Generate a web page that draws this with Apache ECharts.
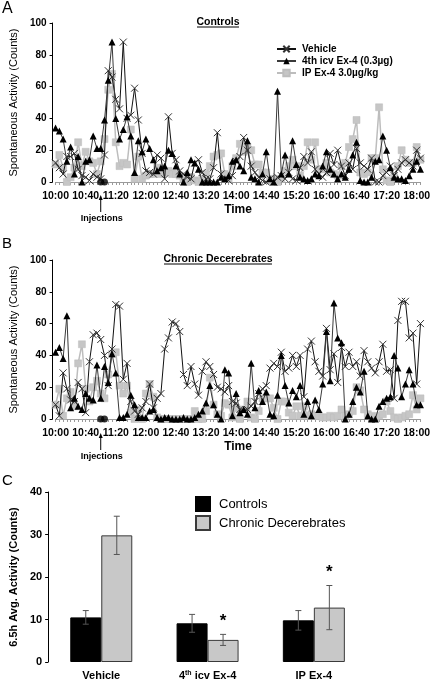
<!DOCTYPE html>
<html><head><meta charset="utf-8">
<script src="https://cdn.jsdelivr.net/npm/echarts@6/dist/echarts.min.js"></script>
<style>html,body{margin:0;padding:0;background:#fff}#c{width:433px;height:684px}</style>
</head><body><div id="c"></div>
<script>
// ---------- time categories (5-min bins, 10:00 - 18:05) ----------
const times = [];
for (let m = 0; m <= 485; m += 5) {
  const h = 10 + Math.floor(m / 60), mm = m % 60;
  times.push(h + ':' + (mm < 10 ? '0' : '') + mm);
}
const injectionTimes = ['11:00', '11:05'];
const injectionValues = [0, 0];

// ---------- Panel A: Controls ----------
const vehicleA = [12,9,5,16,16,18,8,4,3,1, 5,3,2,17,70,66,52,46,88,40, 42,59,39,18,7,6,5,17,15,2,
  41,18,14,7,5,3,2,12,14,6, 2,2,9,31,5,2,1,4,13,16, 28,20,10,6,3,1,0,2,0,3,
  4,2,6,2,1,9,16,12,19,8, 5,3,6,18,11,20,10,4,12,8, 21,12,10,8,15,0,0,4,6,10, 4,8,12,14,12,10,20,15];
const icvA = [34,32,27,13,22,5,16,0,13,14, 29,21,21,39,64,88,40,27,33,41, 29,6,26,19,27,21,14,7,9,10,
  20,18,10,5,0,6,14,12,8,0, 0,0,0,0,3,2,4,13,14,10, 7,26,3,2,0,5,19,2,0,57,
  5,17,5,26,11,3,2,1,2,5, 4,10,19,8,5,2,5,3,8,17, 25,1,0,0,3,13,14,29,20,9, 3,2,2,1,4,8,13,8];
const ipA = [11,17,9,0,3,9,25,10,19,13, 12,5,13,27,58,68,25,10,12,11, 33,2,16,2,4,5,5,9,5,6,
  7,5,5,4,2,0,3,1,0,2, 5,10,16,17,18,5,2,10,15,24, 19,22,20,11,11,6,6,1,2,0,
  2,7,10,14,10,4,10,25,14,25, 8,8,12,6,5,4,10,12,22,27, 39,6,5,6,15,15,47,8,1,0, 3,10,20,14,12,12,22,14];

// ---------- Panel B: Chronic Decerebrates ----------
const vehicleB = [9,2,29,19,12,11,23,19,4,36, 53,54,50,40,21,44,72,71,25,35, 11,5,3,7,11,22,7,13,16,44,
  51,61,60,55,28,21,33,22,15,30, 36,33,28,20,19,17,21,11,10,6, 5,6,8,11,16,19,21,32,35,33,
  42,30,32,40,33,40,14,44,49,36, 30,27,57,31,41,23,45,33,42,33, 36,27,43,36,32,29,36,47,30,31, 13,62,74,74,51,54,22,60];
const icvB = [42,45,38,65,7,13,8,6,16,13, 12,34,13,33,23,41,29,1,1,3, 15,9,1,1,1,5,6,1,0,1,
  1,0,0,0,1,0,0,1,3,5, 10,21,9,3,0,31,29,2,16,4, 6,3,35,7,18,11,17,3,2,15,
  40,21,10,18,14,21,3,11,2,12, 6,22,55,24,73,51,48,0,3,11, 20,17,30,2,0,0,8,11,13,14, 40,32,14,22,31,22,9,9];
const ipB = [9,19,2,13,17,8,35,47,19,11, 20,24,16,13,28,41,42,21,16,21, 4,0,6,0,16,22,14,1,0,0,
  0,0,0,0,0,0,0,5,0,0, 5,26,9,3,2,10,9,1,7,0, 6,11,1,0,5,13,13,13,7,0,
  11,11,4,2,8,2,8,2,3,2, 2,1,1,2,1,2,6,2,3,5, 20,18,6,3,2,1,2,3,11,5, 1,0,1,2,3,15,6,13];

// ---------- Panel C: 6.5h averages ----------
const treatments = ['Vehicle', '4th icv Ex-4', 'IP Ex-4'];
const controlsMean = [10.5, 9.1, 9.8];
const controlsErr = [1.6, 2.1, 2.3];
const decerebMean = [29.8, 5.2, 12.8];
const decerebErr = [4.5, 1.3, 5.2];
const decerebSig = ['', '*', '*'];

const seriesNames = ['Vehicle', '4th icv Ex-4 (0.3\u00b5g)', 'IP Ex-4 3.0\u00b5g/kg'];
const groupNames = ['Controls', 'Chronic Decerebrates'];

// ---------- styling ----------
const F = "'Liberation Sans', Arial, Helvetica, sans-serif";
const FN = "'Liberation Sans Narrow', 'Liberation Sans', Arial, sans-serif";
const xMark = 'path://M0,0L10,10M10,0L0,10';

function timeAxis(gi) {
  return {
    type: 'category', gridIndex: gi, data: times, boundaryGap: false,
    axisLine: { lineStyle: { color: '#9a9a9a', width: 1 } },
    axisTick: { interval: 0, length: 3, lineStyle: { color: '#9a9a9a' } },
    axisLabel: { interval: 7, color: '#000', fontFamily: F, fontWeight: 'bold', fontSize: 10.5, margin: 9 },
    splitLine: { show: false },
    name: 'Time', nameLocation: 'middle', nameGap: 22,
    nameTextStyle: { fontFamily: F, fontWeight: 'bold', fontSize: 12, color: '#000' }
  };
}
function countAxis(gi) {
  return {
    type: 'value', gridIndex: gi, min: 0, max: 100, interval: 20, offset: 3,
    axisLine: { show: true, lineStyle: { color: '#000' } },
    axisTick: { show: true, length: 3, lineStyle: { color: '#000' } },
    axisLabel: { color: '#000', fontFamily: F, fontWeight: 'bold', fontSize: 10, margin: 6 },
    splitLine: { show: false },
    name: 'Spontaneous Activity (Counts)', nameLocation: 'middle', nameGap: 26,
    nameTextStyle: { fontFamily: F, fontSize: 11, color: '#000' }
  };
}
function lines(gi, veh, icv, ip) {
  return [
    { name: seriesNames[2], type: 'line', xAxisIndex: gi, yAxisIndex: gi, data: ip,
      symbol: 'rect', symbolSize: 7, showAllSymbol: true,
      itemStyle: { color: '#c6c6c6', borderColor: '#bdbdbd', borderWidth: 0.5 },
      lineStyle: { color: '#bdbdbd', width: 1.5 }, z: 2 },
    { name: seriesNames[0], type: 'line', xAxisIndex: gi, yAxisIndex: gi, data: veh,
      symbol: xMark, symbolSize: 7, showAllSymbol: true,
      itemStyle: { color: '#333', borderColor: '#333', borderWidth: 1 },
      lineStyle: { color: '#111', width: 1 }, z: 3 },
    { name: seriesNames[1], type: 'line', xAxisIndex: gi, yAxisIndex: gi, data: icv,
      symbol: 'triangle', symbolSize: 7, showAllSymbol: true,
      itemStyle: { color: '#000' },
      lineStyle: { color: '#3a3a3a', width: 1 }, z: 4 },
    { type: 'scatter', xAxisIndex: gi, yAxisIndex: gi,
      data: injectionTimes.map((t, i) => [times.indexOf(t), injectionValues[i]]),
      symbol: 'circle', symbolSize: 7, itemStyle: { color: '#000' }, z: 6, silent: true }
  ];
}
function errSeries(means, errs, offset) {
  return {
    type: 'custom', xAxisIndex: 2, yAxisIndex: 2, z: 5, silent: true,
    data: means.map((m, i) => [i, m, errs[i]]),
    renderItem(params, api) {
      const i = api.value(0), m = api.value(1), e = api.value(2);
      const top = api.coord([i, m + e]), bot = api.coord([i, m - e]);
      const x = top[0] + offset, cw = 3;
      const st = { stroke: '#555', lineWidth: 1 };
      return { type: 'group', children: [
        { type: 'line', shape: { x1: x, y1: top[1], x2: x, y2: bot[1] }, style: st },
        { type: 'line', shape: { x1: x - cw, y1: top[1], x2: x + cw, y2: top[1] }, style: st },
        { type: 'line', shape: { x1: x - cw, y1: bot[1], x2: x + cw, y2: bot[1] }, style: st }
      ]};
    }
  };
}

const chart = echarts.init(document.getElementById('c'), null, { renderer: 'canvas' });
const option = {
  animation: false,
  backgroundColor: '#fff',
  textStyle: { fontFamily: F },
  grid: [
    { left: 43, right: 8, top: 23, height: 159 },
    { left: 43, right: 8, top: 260, height: 159 },
    { left: 40, right: 66, top: 492, height: 170 }
  ],
  legend: [
    { data: [seriesNames[0], seriesNames[1], seriesNames[2]], orient: 'vertical', left: 271, top: 39,
      itemWidth: 19, itemHeight: 8, itemGap: 2,
      textStyle: { fontFamily: F, fontWeight: 'bold', fontSize: 10, color: '#000', padding: [0, 0, 0, 1] } },
    { data: groupNames, orient: 'vertical', left: 190, top: 491, icon: 'rect',
      itemWidth: 14, itemHeight: 14, itemGap: 3,
      textStyle: { fontFamily: F, fontSize: 13, color: '#000', padding: [0, 0, 0, 4] } }
  ],
  xAxis: [
    timeAxis(0), timeAxis(1),
    { type: 'category', gridIndex: 2, data: treatments,
      axisLine: { show: false }, axisTick: { show: false },
      axisLabel: { interval: 0, margin: 8, color: '#000', hideOverlap: false,
        formatter: v => v.indexOf('4th') === 0 ? '{n|4}{s|th}{n| icv Ex-4}' : '{n|' + v + '}',
        rich: {
          n: { fontFamily: F, fontWeight: 'bold', fontSize: 11, color: '#000' },
          s: { fontFamily: F, fontWeight: 'bold', fontSize: 7, color: '#000', padding: [0, 0, 5, 0] }
        } } }
  ],
  yAxis: [
    countAxis(0), countAxis(1),
    { type: 'value', gridIndex: 2, min: 0, max: 40, interval: 10,
      axisLine: { show: true, lineStyle: { color: '#000' } },
      axisTick: { show: true, length: 3, lineStyle: { color: '#000' } },
      axisLabel: { color: '#000', fontFamily: FN, fontWeight: 'bold', fontSize: 11, margin: 6 },
      splitLine: { show: false },
      name: '6.5h Avg. Activity (Counts)', nameLocation: 'middle', nameGap: 22,
      nameTextStyle: { fontFamily: F, fontWeight: 'bold', fontSize: 11, color: '#000' } }
  ],
  series: [
    ...lines(0, vehicleA, icvA, ipA),
    ...lines(1, vehicleB, icvB, ipB),
    { name: groupNames[0], type: 'bar', xAxisIndex: 2, yAxisIndex: 2, data: controlsMean,
      barWidth: 31, barGap: '0%', itemStyle: { color: '#000', borderColor: '#000', borderWidth: 1 } },
    { name: groupNames[1], type: 'bar', xAxisIndex: 2, yAxisIndex: 2, data: decerebMean,
      barWidth: 31, barGap: '0%', itemStyle: { color: '#c8c8c8', borderColor: '#3a3a3a', borderWidth: 1 } },
    errSeries(controlsMean, controlsErr, -15.5),
    errSeries(decerebMean, decerebErr, 15.5),
    { type: 'custom', xAxisIndex: 2, yAxisIndex: 2, z: 6, silent: true,
      data: decerebMean.map((m, i) => [i, m + decerebErr[i]]),
      renderItem(params, api) {
        const i = api.value(0), top = api.value(1), s = decerebSig[i];
        if (!s) return null;
        const p = api.coord([i, top]);
        return { type: 'text', style: { text: s, x: p[0] + 15.5, y: p[1] - 13,
          textAlign: 'center', textVerticalAlign: 'middle',
          font: 'bold 17px ' + F, fill: '#000' } };
      } }
  ]
};
chart.setOption(option);

// annotations positioned from the axes
const injX = chart.convertToPixel({ xAxisIndex: 0 }, times.indexOf(injectionTimes[0]));
const injXB = chart.convertToPixel({ xAxisIndex: 1 }, times.indexOf(injectionTimes[0]));
function arrow(x, yTop, yBot) {
  return [
    { type: 'line', shape: { x1: x, y1: yTop + 3, x2: x, y2: yBot }, style: { stroke: '#000', lineWidth: 1 } },
    { type: 'polygon', shape: { points: [[x, yTop], [x - 2, yTop + 5], [x + 2, yTop + 5]] }, style: { fill: '#000' } },
    { type: 'text', style: { text: 'Injections', x: x + 1, y: yBot + 7, textAlign: 'center', textVerticalAlign: 'middle',
      font: 'bold 9px ' + F, fill: '#000' } }
  ];
}
chart.setOption({
  graphic: [
    { type: 'text', style: { text: 'A', x: 2, y: 1, font: '16px ' + F, fill: '#000' } },
    { type: 'text', style: { text: 'B', x: 2, y: 236, font: '15px ' + F, fill: '#000' } },
    { type: 'text', style: { text: 'C', x: 2, y: 473, font: '15px ' + F, fill: '#000' } },
    { type: 'text', style: { text: 'Controls', x: 218, y: 22, textAlign: 'center', textVerticalAlign: 'middle',
      font: 'bold 10.5px ' + F, fill: '#000' } },
    { type: 'line', shape: { x1: 197, y1: 27, x2: 239, y2: 27 }, style: { stroke: '#000', lineWidth: 1 } },
    { type: 'text', style: { text: 'Chronic Decerebrates', x: 218, y: 259, textAlign: 'center', textVerticalAlign: 'middle',
      font: 'bold 10.5px ' + F, fill: '#000' } },
    { type: 'line', shape: { x1: 164, y1: 264, x2: 272, y2: 264 }, style: { stroke: '#000', lineWidth: 1 } },
    ...arrow(injX, 195, 212),
    ...arrow(injXB, 433, 450)
  ]
});
</script>
</body></html>
